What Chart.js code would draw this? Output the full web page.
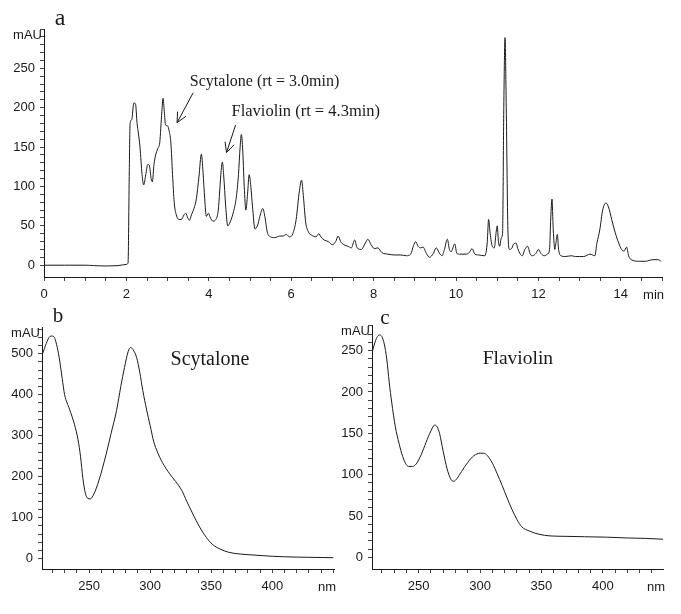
<!DOCTYPE html>
<html>
<head>
<meta charset="utf-8">
<script src="https://cdn.jsdelivr.net/npm/chart.js@4.4.1/dist/chart.umd.min.js"></script>
<style>
  html, body { margin: 0; padding: 0; background: #fff; }
  #wrap { position: relative; width: 681px; height: 614px; overflow: hidden; }
  canvas { position: absolute; }
</style>
</head>
<body>
<div id="wrap">
  <canvas id="chartA" width="681" height="310" style="left:0;top:0"></canvas>
  <canvas id="chartB" width="350" height="314" style="left:0;top:300px"></canvas>
  <canvas id="chartC" width="351" height="314" style="left:330px;top:300px"></canvas>
</div>
<script>
/* Panel a: HPLC chromatogram (time in min, signal in mAU) */
const aTime = [
  0, 0.5, 1.0, 1.2, 1.5, 1.8, 2.0, 2.04, 2.07, 2.09, 2.13, 2.18, 2.22, 2.26, 2.29, 2.33, 2.38, 2.42,
  2.47, 2.52, 2.56, 2.6, 2.63, 2.67, 2.71, 2.76, 2.81, 2.86, 2.89, 2.92, 2.95, 3.0, 3.04, 3.08, 3.12,
  3.16, 3.21, 3.28, 3.33, 3.4, 3.44, 3.49, 3.53, 3.58, 3.64, 3.7, 3.76, 3.82, 3.86, 3.9, 3.94, 3.99,
  4.04, 4.1, 4.17, 4.23, 4.3, 4.33, 4.36, 4.41, 4.46, 4.52, 4.6, 4.67, 4.72, 4.76, 4.79, 4.82, 4.86,
  4.9, 4.94, 4.98, 5.02, 5.06, 5.12, 5.18, 5.24, 5.31, 5.36, 5.42, 5.5, 5.6, 5.72, 5.8, 5.88, 5.96,
  6.04, 6.12, 6.2, 6.25, 6.3, 6.35, 6.42, 6.5, 6.6, 6.67, 6.72, 6.8, 6.9, 7.0, 7.08, 7.14, 7.2, 7.28,
  7.38, 7.46, 7.54, 7.6, 7.7, 7.8, 7.86, 7.94, 8.02, 8.1, 8.2, 8.35, 8.5, 8.65, 8.8, 8.9, 8.97, 9.02,
  9.08, 9.14, 9.2, 9.28, 9.36, 9.45, 9.52, 9.6, 9.66, 9.72, 9.79, 9.84, 9.88, 9.97, 10.02, 10.1,
  10.25, 10.32, 10.39, 10.46, 10.55, 10.7, 10.76, 10.79, 10.83, 10.88, 10.93, 10.97, 11.0, 11.03,
  11.06, 11.1, 11.13, 11.16, 11.19, 11.22, 11.26, 11.3, 11.36, 11.4, 11.46, 11.5, 11.56, 11.61,
  11.67, 11.74, 11.8, 11.86, 11.94, 12.0, 12.06, 12.14, 12.22, 12.27, 12.3, 12.33, 12.36, 12.4,
  12.43, 12.46, 12.49, 12.55, 12.65, 12.8, 12.9, 13.0, 13.1, 13.25, 13.37, 13.42, 13.49, 13.56,
  13.64, 13.7, 13.78, 13.86, 13.95, 14.02, 14.08, 14.14, 14.19, 14.25, 14.45, 14.6, 14.78, 14.9, 14.98
];
const aSignal = [
  0, 0, 0, -0.5, -1, -0.5, 1, 3, 120, 180, 185, 206, 205, 180, 168, 150, 115, 102,
  115, 128, 126, 110, 106, 128, 140, 148, 156, 195, 212, 195, 178, 177, 170, 155, 115,
  80, 64, 58, 58, 64, 66, 60, 57, 64, 72, 85, 112, 141, 118, 85, 62, 66,
  60, 56, 58, 70, 120, 131, 115, 75, 50, 55, 68, 87, 115, 150, 166, 150, 100,
  70, 90, 115, 100, 75, 46, 50, 62, 72, 62, 42, 36, 35, 37, 37, 39, 36,
  40, 58, 95, 108, 85, 55, 42, 38, 36, 40, 36, 32, 30, 26, 30, 37, 30, 26,
  24, 22, 32, 22, 20, 28, 33, 26, 21, 22, 16, 14, 13, 13, 12, 14, 25, 30,
  24, 22, 23, 15, 10, 15, 22, 15, 12, 20, 33, 20, 17, 27, 15, 14,
  14, 16, 21, 14, 13, 12, 30, 58, 40, 24, 22, 40, 50, 30,
  24, 35, 40, 200, 289, 200, 45, 20, 22, 27, 28, 21, 14, 12,
  20, 24, 14, 12, 15, 20, 15, 12, 14, 20, 60, 84, 45, 20,
  30, 39, 20, 12, 11, 12, 11, 11, 11, 14, 12, 28, 45, 70,
  79, 74, 58, 42, 28, 20, 18, 23, 12, 7, 5, 5, 7, 7, 5
];
const aTimeLabels = [0, 2, 4, 6, 8, 10, 12, 14];
const aSignalLabels = [0, 50, 100, 150, 200, 250];

/* Panel b: UV spectrum of scytalone */
const bWavelength = [
  212, 215, 218, 220, 222, 224, 226, 228, 230, 234, 238, 241, 243, 245, 247, 249, 251, 254, 258,
  264, 268, 272.5, 276, 279, 282, 284, 286, 289, 291.5, 294, 297, 300, 303, 306, 310, 316, 321,
  326, 330, 335, 340, 346, 351, 357, 364, 372, 385, 400, 420, 440, 450
];
const bAbsorbance = [
  500, 525, 542, 543, 537, 515, 482, 440, 400, 365, 328, 290, 250, 195, 160, 147, 146, 158, 190,
  255, 305, 361, 420, 466, 505, 515, 510, 490, 455, 410, 365, 325, 285, 260, 235, 207, 188,
  166, 140, 109, 80, 52, 35, 24, 16, 12, 9, 6, 4, 3, 2.5
];
const bWavelengthLabels = [250, 300, 350, 400];
const bAbsorbanceLabels = [0, 100, 200, 300, 400, 500];

/* Panel c: UV spectrum of flaviolin */
const cWavelength = [
  212, 214, 216, 218, 220, 222, 224, 226, 228, 231, 234, 237, 240, 242, 245, 248, 252, 256, 260,
  263, 265, 267, 270, 273, 276, 278.5, 281, 285, 290, 295, 300, 303, 306, 310, 314, 318, 322,
  326, 330, 334, 340, 348, 357, 370, 385, 403, 420, 435, 449
];
const cAbsorbance = [
  247, 258, 266, 269, 267, 258, 240, 212, 188, 158, 138, 122, 112, 110, 110, 113, 124, 139, 153,
  160, 158, 150, 128, 108, 95, 92, 95, 104, 115, 123, 126, 126, 123, 114, 101, 87, 72,
  58, 46, 37, 32, 28, 26, 25.5, 25, 24.5, 23.5, 23, 22
];
const cWavelengthLabels = [250, 300, 350, 400];
const cAbsorbanceLabels = [0, 50, 100, 150, 200, 250];

const INK = '#1a1a1a';
const SANS = '"Liberation Sans", Arial, sans-serif';
const SERIF = '"Liberation Serif", "Times New Roman", serif';

const toPoints = (xs, ys) => xs.map((x, i) => ({ x, y: ys[i] }));

function steps(from, to, step) {
  const out = [];
  for (let v = from; v <= to + 1e-9; v += step) out.push(Math.round(v * 100) / 100);
  return out;
}

/** One linear axis: fixed size, tick marks at `marks`, text only at `labels` */
function axis(o) {
  return {
    type: 'linear',
    min: o.min,
    max: o.max,
    afterFit: s => {
      if (s.isHorizontal()) s.height = o.size; else s.width = o.size;
    },
    afterBuildTicks: s => { s.ticks = o.marks.map(v => ({ value: v })); },
    grid: { drawOnChartArea: false, drawTicks: true, tickLength: 4, color: '#444' },
    border: { display: true, color: INK, width: 1 },
    ticks: {
      autoSkip: false,
      maxRotation: 0,
      padding: o.pad,
      color: INK,
      font: { family: SANS, size: 13 },
      callback: v => (o.labels.includes(v) ? String(v) : ''),
    },
  };
}

/** Panel letter, unit labels, peak notes and arrows */
const panelText = {
  id: 'panelText',
  afterDraw(chart, args, o) {
    const { ctx, chartArea: ca } = chart;
    const { x, y } = chart.scales;
    ctx.save();
    ctx.fillStyle = INK;
    ctx.strokeStyle = INK;
    ctx.lineWidth = 1;

    ctx.font = `${o.letterSize}px ${SERIF}`;
    ctx.textAlign = 'center';
    ctx.textBaseline = 'middle';
    ctx.fillText(o.letter, o.letterX, o.letterY);

    ctx.font = `13px ${SANS}`;
    ctx.textAlign = 'right';
    ctx.fillText('mAU', ca.left - 2, ca.top + 6);
    ctx.fillText(o.xUnit, ca.right + 2, ca.bottom + 18);

    ctx.textAlign = 'left';
    (o.notes || []).forEach(n => {
      ctx.font = `${n.size}px ${SERIF}`;
      ctx.fillText(n.text, x.getPixelForValue(n.x), y.getPixelForValue(n.y));
    });

    (o.arrows || []).forEach(a => {
      const x0 = x.getPixelForValue(a.from[0]), y0 = y.getPixelForValue(a.from[1]);
      const x1 = x.getPixelForValue(a.to[0]), y1 = y.getPixelForValue(a.to[1]);
      const ang = Math.atan2(y1 - y0, x1 - x0);
      ctx.beginPath();
      ctx.moveTo(x0, y0);
      ctx.lineTo(x1, y1);
      [-0.45, 0.45].forEach(d => {
        ctx.moveTo(x1, y1);
        ctx.lineTo(x1 - 11 * Math.cos(ang + d), y1 - 11 * Math.sin(ang + d));
      });
      ctx.stroke();
    });
    ctx.restore();
  },
};

function lineDataset(points) {
  return {
    data: points,
    borderColor: INK,
    borderWidth: 1,
    pointRadius: 0,
    cubicInterpolationMode: 'monotone',
    fill: false,
  };
}

function makeChart(id, points, padding, xAxis, yAxis, text) {
  return new Chart(document.getElementById(id), {
    type: 'line',
    data: { datasets: [lineDataset(points)] },
    options: {
      responsive: false,
      animation: false,
      events: [],
      layout: { padding },
      plugins: { legend: { display: false }, tooltip: { enabled: false }, panelText: text },
      scales: { x: xAxis, y: yAxis },
    },
    plugins: [panelText],
  });
}

makeChart('chartA', toPoints(aTime, aSignal),
  { left: 0, top: 29, right: 19, bottom: 0 },
  axis({ min: 0, max: 15, size: 33, pad: 6, marks: steps(0, 15, 0.5), labels: aTimeLabels }),
  axis({ min: -15, max: 300, size: 44, pad: 5, marks: steps(0, 300, 10), labels: aSignalLabels }),
  {
    letter: 'a', letterX: 60, letterY: 19, letterSize: 24, xUnit: 'min',
    notes: [
      { text: 'Scytalone (rt = 3.0min)', x: 3.54, y: 233, size: 16 },
      { text: 'Flaviolin (rt = 4.3min)', x: 4.55, y: 195, size: 16.5 },
    ],
    arrows: [
      { from: [3.62, 219], to: [3.23, 181] },
      { from: [4.65, 178], to: [4.43, 143] },
    ],
  });

makeChart('chartB', toPoints(bWavelength, bAbsorbance),
  { left: 0, top: 27, right: 16, bottom: 0 },
  axis({ min: 211.5, max: 450.5, size: 45, pad: 5.5, marks: steps(220, 450, 10), labels: bWavelengthLabels }),
  axis({ min: -25, max: 565, size: 42, pad: 5, marks: steps(0, 560, 20), labels: bAbsorbanceLabels }),
  {
    letter: 'b', letterX: 58, letterY: 16.5, letterSize: 21, xUnit: 'nm',
    notes: [{ text: 'Scytalone', x: 316.7, y: 486, size: 20 }],
  });

makeChart('chartC', toPoints(cWavelength, cAbsorbance),
  { left: 0, top: 25, right: 18, bottom: 0 },
  axis({ min: 212, max: 449, size: 45, pad: 5.5, marks: steps(220, 440, 10), labels: cWavelengthLabels }),
  axis({ min: -14, max: 281, size: 42, pad: 5, marks: steps(0, 280, 10), labels: cAbsorbanceLabels }),
  {
    letter: 'c', letterX: 55, letterY: 18, letterSize: 21, xUnit: 'nm',
    notes: [{ text: 'Flaviolin', x: 302.1, y: 240, size: 19.5 }],
  });
</script>
</body>
</html>
